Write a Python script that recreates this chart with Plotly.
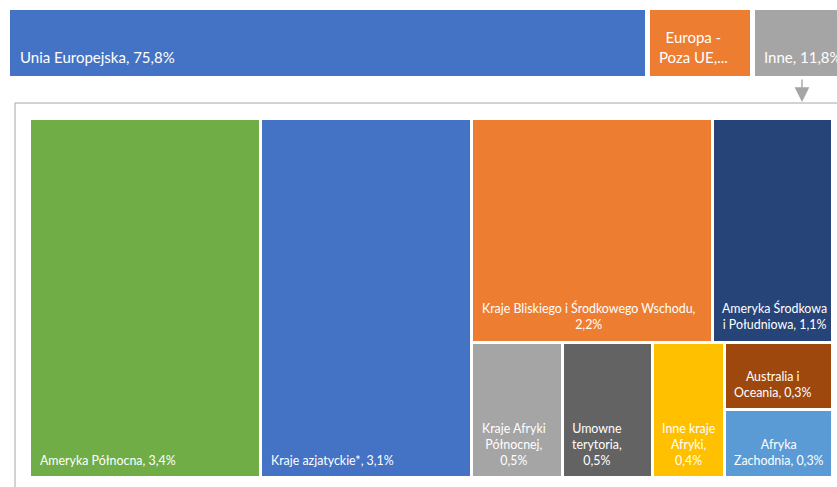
import plotly.graph_objects as go

# ---------------- data ----------------
top_names = ["Unia Europejska", "Europa - Poza UE", "Inne"]
top_values = [75.8, 12.4, 11.8]
top_labels = ["Unia Europejska, 75,8%", "Europa -<br>Poza UE,...", "Inne, 11,8%"]
top_colors = ["#4472C4", "#ED7D31", "#A5A5A5"]

tm_names = ["Ameryka Północna", "Kraje azjatyckie*",
            "Kraje Bliskiego i Środkowego Wschodu", "Ameryka Środkowa<br>i Południowa",
            "Kraje Afryki<br>Północnej", "Umowne<br>terytoria", "Inne kraje<br>Afryki",
            "Australia i<br>Oceania", "Afryka<br>Zachodnia"]
tm_values = [3.4, 3.1, 2.2, 1.1, 0.5, 0.5, 0.4, 0.3, 0.3]
tm_seps = [", ", ", ", ",<br>", ", ", ",<br>", ",<br>", ",<br>", ", ", ", "]
tm_colors = ["#70AD47", "#4472C4", "#ED7D31", "#264478", "#A5A5A5",
             "#636363", "#FFC000", "#9E480E", "#5B9BD5"]

# ---------------- page geometry (style) ----------------
FW, FH = 837, 487
FONT = "Lato"
BOX_W, BOX_H = 803.0, 359.0  # treemap canvas units (1 unit = 1 px)
PX_PER_PCT = 8.443           # top bar scale
PAD = 4                      # plot-area padding around treemap (px)


def px(p):   # page x pixel -> paper
    return p / FW


def py(p):   # page y pixel -> paper
    return 1 - p / FH


def fmt(v):
    return f"{v:.1f}".replace(".", ",") + "%"


# ---------------- squarified treemap layout ----------------
def worst(row, side):
    s = sum(row)
    return max(max(side * side * r / (s * s), (s * s) / (side * side * r)) for r in row)


def squarify(values, x, y, w, h):
    total = sum(values)
    areas = [v / total * w * h for v in values]
    rects = []
    i, n = 0, len(areas)
    while i < n:
        along_width = not (w > h * 1.01)
        side = w if along_width else h
        row = [areas[i]]
        j = i + 1
        while j < n and worst(row + [areas[j]], side) <= worst(row, side):
            row.append(areas[j])
            j += 1
        thick = sum(row) / side
        if along_width:
            cx = x
            for a in row:
                cw = a / thick
                rects.append((cx, y, cw, thick))
                cx += cw
            y += thick
            h -= thick
        else:
            cy = y
            for a in row:
                ch = a / thick
                rects.append((x, cy, thick, ch))
                cy += ch
            x += thick
            w -= thick
        i = j
    return rects


rects = squarify(tm_values, 0.0, 0.0, BOX_W, BOX_H)

fig = go.Figure()

# ---------------- top stacked bar ----------------
for name, val, col in zip(top_names, top_values, top_colors):
    fig.add_trace(go.Bar(
        x=[val], y=[0], orientation="h", name=name,
        marker=dict(color=col, line=dict(color="white", width=5)),
        width=1, xaxis="x", yaxis="y", hoverinfo="skip", showlegend=False,
    ))

cum = 0.0
annotations = []
for lab, val in zip(top_labels, top_values):
    annotations.append(dict(
        x=cum, y=-0.5, xref="x", yref="y", text=lab, showarrow=False,
        xanchor="left", yanchor="bottom", align="center",
        xshift=10, yshift=10, font=dict(family=FONT, size=15, color="white"),
    ))
    cum += val

# arrow from "Inne" segment to the detail box
inne_center = sum(top_values[:2]) + top_values[2] / 2
annotations.append(dict(
    x=inne_center, y=py(102), xref="x", yref="paper", text="",
    showarrow=True, ax=0, ay=-24, arrowhead=2, arrowsize=2.1, arrowwidth=1.4,
    arrowcolor="#A5A5A5",
))

# ---------------- treemap cells ----------------
fig.add_trace(go.Bar(
    x=[r[0] + r[2] / 2 for r in rects],
    y=[r[3] for r in rects],
    base=[r[1] for r in rects],
    width=[r[2] for r in rects],
    marker=dict(color=tm_colors, line=dict(color="white", width=3)),
    xaxis="x2", yaxis="y2", hoverinfo="skip", showlegend=False,
))

for r, nm, sep, v in zip(rects, tm_names, tm_seps, tm_values):
    annotations.append(dict(
        x=r[0], y=r[1] + r[3], xref="x2", yref="y2",
        text=nm + sep + fmt(v), showarrow=False,
        xanchor="left", yanchor="bottom", align="center",
        xshift=8, yshift=8, font=dict(family=FONT, size=12.4, color="white"),
    ))

# detail box border
shapes = [
    dict(type="line", xref="paper", yref="paper", x0=px(15), x1=1.02,
         y0=py(103), y1=py(103), line=dict(color="#A6A6A6", width=1)),
    dict(type="line", xref="paper", yref="paper", x0=px(15), x1=px(15),
         y0=py(103), y1=-0.02, line=dict(color="#A6A6A6", width=1)),
]

# top bar: bar spans page y 7.5..78.5 (71 px for 1 unit); plot area 2..84
bar_px = 71.0
yr = (84 - 2) / bar_px / 2
fig.update_layout(
    width=FW, height=FH, margin=dict(l=0, r=0, t=0, b=0),
    paper_bgcolor="white", plot_bgcolor="rgba(0,0,0,0)",
    barmode="stack", bargap=0,
    xaxis=dict(domain=[0, 1], range=[-7.5 / PX_PER_PCT, (FW - 7.5) / PX_PER_PCT],
               visible=False, fixedrange=True),
    yaxis=dict(domain=[py(84), py(2)], range=[-yr, yr], visible=False, fixedrange=True),
    xaxis2=dict(domain=[px(29.5 - PAD), px(832.5 + PAD)], range=[-PAD, BOX_W + PAD],
                visible=False, fixedrange=True, anchor="y2"),
    yaxis2=dict(domain=[py(477.5 + PAD), py(118.5 - PAD)], range=[BOX_H + PAD, -PAD],
                visible=False, fixedrange=True, anchor="x2"),
    annotations=annotations, shapes=shapes,
    font=dict(family=FONT),
)

fig.write_html(
    "out.html",
    config={"displayModeBar": False, "staticPlot": True},
    post_script="document.body.style.margin='0';"
                "document.documentElement.style.overflow='hidden';",
)
